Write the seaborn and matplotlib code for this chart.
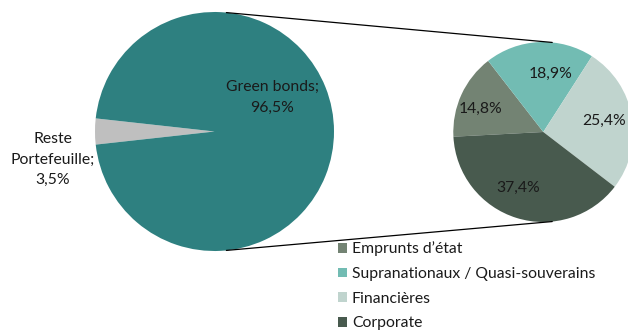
import matplotlib
matplotlib.use("Agg")
import matplotlib.pyplot as plt
import seaborn as sns
import numpy as np
from matplotlib.patches import Patch

sns.set_theme(style="white")
plt.rcParams['font.family'] = ['Lato', 'DejaVu Sans']

# Data
main_labels = ["Reste\nPortefeuille;", "Green bonds;"]
main_values = [3.5, 96.5]
main_colors = ["#BFBFBF", "#2E8080"]

sub_labels = ["Emprunts d\u2019\u00e9tat", "Supranationaux / Quasi-souverains", "Financi\u00e8res", "Corporate"]
sub_values = [14.8, 18.9, 25.4, 37.4]
sub_colors = ["#738373", "#72BCB3", "#C0D4CE", "#485A4E"]

W, H = 628, 330
fig = plt.figure(figsize=(W / 100, H / 100), dpi=100)
ax = fig.add_axes([0, 0, 1, 1])

def fmt(v):
    return f"{v:.1f}".replace(".", ",") + "%"

# Main pie
c1 = (214.5, H - 131.5)
r1 = 119.5
start1 = 180 - main_values[0] * 3.6 / 2
ax.pie(main_values, colors=main_colors, startangle=start1, counterclock=True,
       center=c1, radius=r1, wedgeprops=dict(linewidth=0))

# Secondary pie
c2 = (543.3, H - 132)
r2 = 90
ax.pie(sub_values, colors=sub_colors, startangle=183, counterclock=False,
       center=c2, radius=r2, wedgeprops=dict(linewidth=0))

# Connector lines
a = np.deg2rad(84.3)
ax.plot([c1[0] + r1 * np.cos(a), c2[0] + r2 * np.cos(a)],
        [c1[1] + r1 * np.sin(a), c2[1] + r2 * np.sin(a)], color="black", lw=0.9)
ax.plot([c1[0] + r1 * np.cos(-a), c2[0] + r2 * np.cos(-a)],
        [c1[1] + r1 * np.sin(-a), c2[1] + r2 * np.sin(-a)], color="black", lw=0.9)

tc = "#1a1a1a"
fs = 11.3
# Main labels
ax.text(272, H - 97.5, f"{main_labels[1]}\n{fmt(main_values[1])}", ha="center", va="center",
        fontsize=fs, color=tc, linespacing=1.58)
ax.text(53, H - 159.5, f"{main_labels[0]}\n{fmt(main_values[0])}", ha="center", va="center",
        fontsize=fs, color=tc, linespacing=1.58)

# Secondary labels
sub_pos = [(481, 109), (550.7, 74), (604, 121), (518.3, 188)]
for (x, y), v in zip(sub_pos, sub_values):
    ax.text(x, H - y, fmt(v), ha="center", va="center", fontsize=fs, color=tc)

handles = [Patch(facecolor=c, edgecolor="none") for c in sub_colors]
ax.legend(handles, sub_labels, loc="upper left", bbox_to_anchor=(338 / W, 1 - 241.5 / H),
          frameon=False, fontsize=fs, handlelength=0.57, handleheight=0.57,
          handletextpad=0.32, labelspacing=0.68, borderpad=0, borderaxespad=0,
          labelcolor=tc)

ax.set_xlim(0, W)
ax.set_ylim(0, H)
ax.set_aspect("equal")
ax.axis("off")
fig.savefig("out.png", dpi=100)
